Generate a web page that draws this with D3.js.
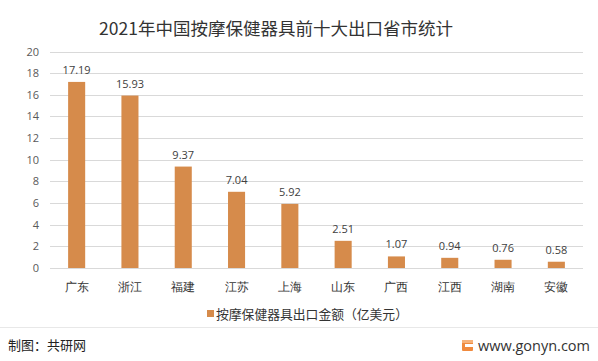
<!DOCTYPE html>
<html>
<head>
<meta charset="utf-8">
<script src="https://cdn.jsdelivr.net/npm/d3@7/dist/d3.min.js"></script>
<style>
  html, body { margin: 0; padding: 0; background: #fff; }
  svg { display: block; font-family: "Noto Sans CJK SC", "Noto Sans", sans-serif; }
</style>
</head>
<body>
<svg id="chart" width="598" height="361"></svg>
<script>
const title = "2021年中国按摩保健器具前十大出口省市统计";
const categories = ["广东", "浙江", "福建", "江苏", "上海", "山东", "广西", "江西", "湖南", "安徽"];
const values = [17.19, 15.93, 9.37, 7.04, 5.92, 2.51, 1.07, 0.94, 0.76, 0.58];
const valueLabels = ["17.19", "15.93", "9.37", "7.04", "5.92", "2.51", "1.07", "0.94", "0.76", "0.58"];
const yTicks = [0, 2, 4, 6, 8, 10, 12, 14, 16, 18, 20];
const seriesName = "按摩保健器具出口金额（亿美元）";
const sourceText = "制图：共研网";
const siteText = "www.gonyn.com";

const svg = d3.select("#chart");
const W = 598, H = 361;
const plotLeft = 50, plotRight = 583, plotTop = 51.5, plotBottom = 268;
const barColor = "#D68B4B";

const x = d3.scaleBand().domain(categories).range([plotLeft, plotRight]).paddingInner(0.68).paddingOuter(0.34);
const y = d3.scaleLinear().domain([0, 20]).range([plotBottom, plotTop]);

// title
svg.append("text")
  .attr("x", 276).attr("y", 35)
  .attr("text-anchor", "middle")
  .attr("font-size", 17.5)
  .attr("fill", "#333")
  .text(title);

// gridlines
svg.append("g").selectAll("line")
  .data(yTicks)
  .join("line")
  .attr("x1", plotLeft).attr("x2", plotRight)
  .attr("y1", d => Math.round(y(d)) + 0.5).attr("y2", d => Math.round(y(d)) + 0.5)
  .attr("stroke", "#d9d9d9").attr("stroke-width", 1);

// y axis labels
const yAxis = d3.axisLeft(y).tickValues(yTicks).tickSize(0).tickPadding(0);
const gy = svg.append("g").attr("transform", `translate(${plotLeft - 11},0)`).call(yAxis);
gy.select(".domain").remove();
gy.selectAll("text")
  .attr("font-size", 11)
  .attr("fill", "#595959")
  .attr("font-family", "'Open Sans', 'Noto Sans', sans-serif");

// bars
svg.append("g").selectAll("rect")
  .data(values)
  .join("rect")
  .attr("x", (d, i) => x(categories[i]))
  .attr("y", d => y(d))
  .attr("width", x.bandwidth())
  .attr("height", d => y(0) - y(d))
  .attr("fill", barColor);

// value labels
svg.append("g").selectAll("text")
  .data(values)
  .join("text")
  .attr("x", (d, i) => x(categories[i]) + x.bandwidth() / 2)
  .attr("y", d => y(d) - 8)
  .attr("text-anchor", "middle")
  .attr("font-size", 11)
  .attr("fill", "#404040")
  .attr("font-family", "'Open Sans', 'Noto Sans', sans-serif")
  .text((d, i) => valueLabels[i]);

// x axis
const xAxis = d3.axisBottom(x).tickSize(0).tickPadding(0);
const gx = svg.append("g").attr("transform", `translate(0,${plotBottom})`).call(xAxis);
gx.select(".domain").remove();
gx.selectAll("text")
  .attr("dy", 0)
  .attr("y", 23)
  .attr("font-size", 12)
  .attr("fill", "#333");

// legend
const lg = svg.append("g");
lg.append("rect").attr("x", 207).attr("y", 310).attr("width", 7).attr("height", 7).attr("fill", barColor);
lg.append("text").attr("x", 216).attr("y", 318.5)
  .attr("font-size", 12.8).attr("fill", "#333").text(seriesName);

// separator
svg.append("line").attr("x1", 0).attr("x2", W).attr("y1", 327.5).attr("y2", 327.5)
  .attr("stroke", "#e8e8e8").attr("stroke-width", 1);

// footer
svg.append("text").attr("x", 8).attr("y", 350)
  .attr("font-size", 13).attr("fill", "#222").text(sourceText);

const icon = svg.append("g").attr("transform", "translate(462,340)");
icon.append("rect").attr("width", 11).attr("height", 11).attr("rx", 1).attr("fill", "#F08A3E");
icon.append("rect").attr("x", 3).attr("y", 4).attr("width", 8).attr("height", 3).attr("fill", "#fff");
icon.append("rect").attr("x", 0).attr("y", 0).attr("width", 11).attr("height", 3).attr("fill", "#F6B27A");

svg.append("text").attr("x", 590).attr("y", 350.5)
  .attr("text-anchor", "end")
  .attr("font-size", 14.5).attr("fill", "#333")
  .attr("font-family", "'Open Sans', 'Noto Sans', sans-serif")
  .text(siteText);
</script>
</body>
</html>
